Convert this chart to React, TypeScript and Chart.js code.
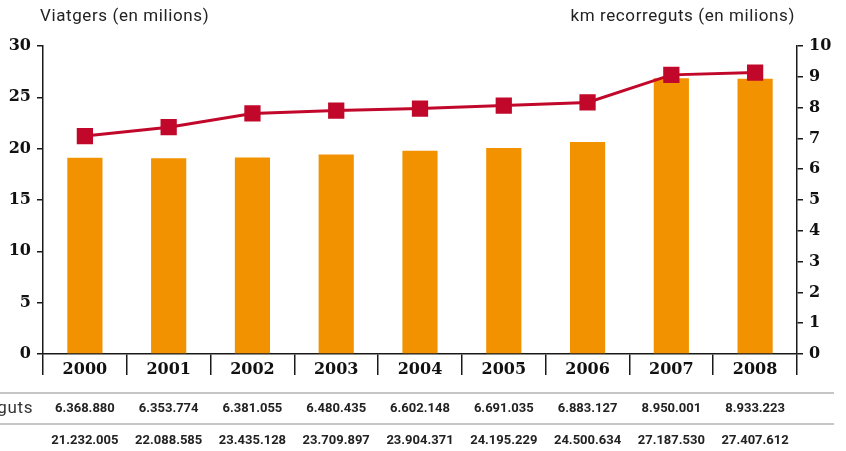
import React, { useEffect, useRef } from "react";
import { Chart, registerables } from "chart.js";

Chart.register(...registerables);

const years = ["2000", "2001", "2002", "2003", "2004", "2005", "2006", "2007", "2008"];
const kmRecorreguts = [6368880, 6353774, 6381055, 6480435, 6602148, 6691035, 6883127, 8950001, 8933223];
const viatgers = [21232005, 22088585, 23435128, 23709897, 23904371, 24195229, 24500634, 27187530, 27407612];
const leftTitle = "Viatgers (en milions)";
const rightTitle = "km recorreguts (en milions)";
const rowLabel = "km recorreguts";

const fmt = (n: number) => String(n).replace(/\B(?=(\d{3})+(?!\d))/g, ".");

const BAR = "#F29200";
const LINE = "#C1082B";
const AXIS = "#1a1a1a";
const TICK_FONT = { family: "'DejaVu Serif', serif", size: 16, weight: "bold" as const };

const overlay = {
  id: "overlay",
  afterDraw(chart: any) {
    const ctx = chart.ctx;
    const xs = chart.scales.x;
    ctx.save();
    ctx.fillStyle = "#222";
    ctx.font = "17px Roboto, sans-serif";
    (ctx as any).letterSpacing = "0.6px";
    ctx.textBaseline = "middle";
    ctx.textAlign = "left";
    ctx.fillText(leftTitle, 40, 17);
    ctx.textAlign = "right";
    ctx.fillText(rightTitle, 795, 17);

    ctx.textAlign = "right";
    ctx.fillStyle = "#333";
    ctx.fillText(rowLabel, 33, 409);
    (ctx as any).letterSpacing = "0px";

    ctx.strokeStyle = "#b3b3b3";
    ctx.lineWidth = 1.5;
    [393, 424].forEach((y) => {
      ctx.beginPath();
      ctx.moveTo(0, y);
      ctx.lineTo(834, y);
      ctx.stroke();
    });

    ctx.textAlign = "center";
    ctx.font = "bold 13px Roboto, sans-serif";
    ctx.fillStyle = "#222";
    years.forEach((_, i) => {
      const x = xs.getPixelForValue(i);
      ctx.fillText(fmt(kmRecorreguts[i]), x, 409);
      ctx.fillText(fmt(viatgers[i]), x, 441);
    });
    ctx.restore();
  },
};

export default function App() {
  const ref = useRef<HTMLCanvasElement>(null);
  useEffect(() => {
    const chart = new Chart(ref.current!, {
      type: "bar",
      data: {
        labels: years,
        datasets: [
          {
            type: "line",
            data: viatgers.map((v) => v / 1e6),
            yAxisID: "y",
            borderColor: LINE,
            backgroundColor: LINE,
            borderWidth: 3,
            pointStyle: "rect",
            pointRadius: 11.5,
            pointBorderWidth: 0,
            pointBackgroundColor: LINE,
            tension: 0,
            order: 0,
          } as any,
          {
            type: "bar",
            data: kmRecorreguts.map((v) => v / 1e6),
            yAxisID: "y1",
            backgroundColor: BAR,
            barPercentage: 0.42,
            categoryPercentage: 1,
            order: 1,
          },
        ],
      },
      options: {
        animation: false,
        responsive: false,
        layout: { padding: { top: 46, left: 0, right: 0, bottom: 0 } },
        plugins: { legend: { display: false }, tooltip: { enabled: false } },
        scales: {
          x: {
            offset: true,
            grid: { offset: true, drawOnChartArea: false, drawTicks: true, tickLength: 21, color: AXIS, lineWidth: 1.5 },
            border: { color: AXIS, width: 1.5 },
            ticks: { font: TICK_FONT, color: "#111", padding: -15 },
            afterFit: (s: any) => { s.height = 97; },
          },
          y: {
            position: "left",
            min: 0,
            max: 30,
            ticks: { stepSize: 5, font: TICK_FONT, color: "#111", padding: 6 },
            grid: { drawOnChartArea: false, tickLength: 6, color: AXIS, lineWidth: 1.5 },
            border: { color: AXIS, width: 1.5 },
            afterFit: (s: any) => { s.width = 43; },
          },
          y1: {
            position: "right",
            min: 0,
            max: 10,
            ticks: { stepSize: 1, font: TICK_FONT, color: "#111", padding: 6 },
            grid: { drawOnChartArea: false, tickLength: 6, color: AXIS, lineWidth: 1.5 },
            border: { color: AXIS, width: 1.5 },
            afterFit: (s: any) => { s.width = 49; },
          },
        },
      },
      plugins: [overlay],
    });
    return () => chart.destroy();
  }, []);
  return (
    <div style={{ position: "fixed", left: 0, top: 0, width: 846, height: 451, background: "#fff" }}>
      <canvas ref={ref} width={846} height={451} style={{ display: "block" }} />
    </div>
  );
}
